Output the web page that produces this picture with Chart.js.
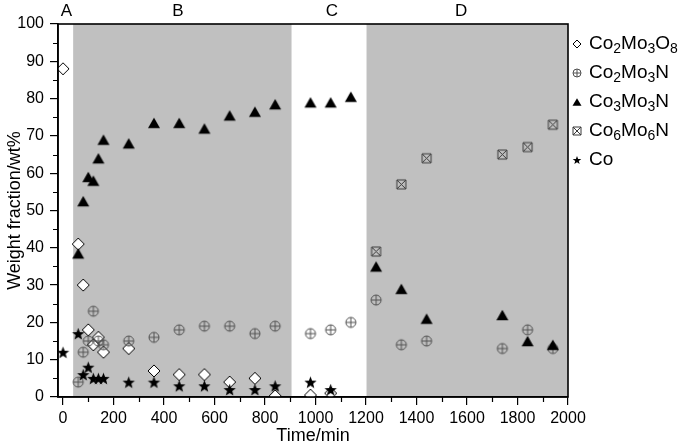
<!DOCTYPE html>
<html><head><meta charset="utf-8">
<script src="https://cdn.jsdelivr.net/npm/chart.js@4.4.0/dist/chart.umd.min.js"></script>
<style>html,body{margin:0;padding:0;background:#fff;}</style>
</head><body>
<canvas id="c" width="685" height="447"></canvas>
<script>
// ---------- data ----------
const seriesNames = ['Co2Mo3O8', 'Co2Mo3N', 'Co3Mo3N', 'Co6Mo6N', 'Co'];

const timeCo2Mo3O8 = [0, 60, 80, 100, 120, 140, 160, 260, 360, 460, 560, 660, 760, 840, 980, 1060];
const wtCo2Mo3O8   = [88, 41, 30, 18, 14, 16, 12, 13, 7, 6, 6, 4, 5, 0.3, 0.5, 1];

const timeNitrides = [60, 80, 100, 120, 140, 160, 260, 360, 460, 560, 660, 760, 840, 980, 1060, 1140, 1240, 1340, 1440, 1740, 1840, 1940];
const wtCo2Mo3N    = [4, 12, 15, 23, 15, 14, 15, 16, 18, 19, 19, 17, 19, 17, 18, 20, 26, 14, 15, 13, 18, 13];
const wtCo3Mo3N    = [38.5, 52.5, 59, 58, 64, 69, 68, 73.5, 73.5, 72, 75.5, 76.5, 78.5, 79, 79, 80.5, 35, 29, 21, 22, 15, 14];

const timeCo6Mo6N  = [1240, 1340, 1440, 1740, 1840, 1940];
const wtCo6Mo6N    = [39, 57, 64, 65, 67, 73];

const timeCo = [0, 60, 80, 100, 120, 140, 160, 260, 360, 460, 560, 660, 760, 840, 980, 1060];
const wtCo   = [12, 17, 6, 8, 5, 5, 5, 4, 4, 3, 3, 2, 2, 3, 4, 2];

const xTickValues = [0, 200, 400, 600, 800, 1000, 1200, 1400, 1600, 1800, 2000];
const yTickValues = [0, 10, 20, 30, 40, 50, 60, 70, 80, 90, 100];

const regionLabels = ['A', 'B', 'C', 'D'];
const regionLabelAt = [13, 455, 1065, 1577];
const shadeFrom = [40, 1202];
const shadeTo   = [905, 2000];

// ---------- markers ----------
const FONT = '"Liberation Sans", Arial, sans-serif';
function drawMarker(g, kind, cx, cy, s) {
  const h = s / 2;
  g.save();
  g.lineWidth = 1;
  g.beginPath();
  if (kind === 'diamond') {
    g.moveTo(cx, cy - h); g.lineTo(cx + h, cy); g.lineTo(cx, cy + h); g.lineTo(cx - h, cy); g.closePath();
    g.fillStyle = '#fff'; g.fill(); g.strokeStyle = '#000'; g.stroke();
  } else if (kind === 'circplus') {
    g.arc(cx, cy, h, 0, Math.PI * 2);
    g.moveTo(cx - h, cy); g.lineTo(cx + h, cy);
    g.moveTo(cx, cy - h); g.lineTo(cx, cy + h);
    g.strokeStyle = '#505050'; g.stroke();
  } else if (kind === 'triangle') {
    const th = s * 0.86;
    g.moveTo(cx, cy - th / 2); g.lineTo(cx + h, cy + th / 2); g.lineTo(cx - h, cy + th / 2); g.closePath();
    g.fillStyle = '#000'; g.fill();
  } else if (kind === 'squarex') {
    g.rect(cx - h, cy - h, s, s);
    g.moveTo(cx - h, cy - h); g.lineTo(cx + h, cy + h);
    g.moveTo(cx + h, cy - h); g.lineTo(cx - h, cy + h);
    g.strokeStyle = '#3a3a3a'; g.stroke();
  } else if (kind === 'star') {
    const ro = h, ri = h * 0.42, oy = cy + h * 0.1;
    for (let i = 0; i < 10; i++) {
      const r = i % 2 ? ri : ro;
      const a = -Math.PI / 2 + i * Math.PI / 5;
      const px = cx + r * Math.cos(a), py = oy + r * Math.sin(a);
      if (i === 0) g.moveTo(px, py); else g.lineTo(px, py);
    }
    g.closePath(); g.fillStyle = '#000'; g.fill();
  }
  g.restore();
}
function markerCanvas(kind, s) {
  const n = Math.ceil(s + 4);
  const c = document.createElement('canvas');
  c.width = n; c.height = n;
  drawMarker(c.getContext('2d'), kind, n / 2, n / 2, s);
  return c;
}
const kinds = ['diamond', 'circplus', 'triangle', 'squarex', 'star'];
const plotSizes = [12, 10, 12, 9, 13];
const legendSizes = [8, 8, 9, 8, 9];

function pts(xs, ys) { return xs.map((x, i) => ({x: x, y: ys[i]})); }
const seriesData = [
  pts(timeCo2Mo3O8, wtCo2Mo3O8),
  pts(timeNitrides, wtCo2Mo3N),
  pts(timeNitrides, wtCo3Mo3N),
  pts(timeCo6Mo6N, wtCo6Mo6N),
  pts(timeCo, wtCo)
];
const datasets = seriesNames.map((name, i) => ({
  label: name,
  data: seriesData[i],
  pointStyle: markerCanvas(kinds[i], plotSizes[i]),
  pointRadius: 6,
  showLine: false,
  order: 4 - i
}));

// ---------- plugins ----------
const shadePlugin = {
  id: 'shade',
  beforeDraw(chart) {
    const {ctx, chartArea: a, scales: {x}} = chart;
    ctx.save();
    ctx.fillStyle = '#fff';
    ctx.fillRect(0, 0, chart.width, chart.height);
    ctx.fillStyle = '#c0c0c0';
    for (let i = 0; i < shadeFrom.length; i++) {
      const x0 = x.getPixelForValue(shadeFrom[i]);
      const x1 = x.getPixelForValue(shadeTo[i]);
      ctx.fillRect(x0, a.top, x1 - x0, a.bottom - a.top);
    }
    ctx.restore();
  }
};

function drawChem(ctx, text, x, y, big, small) {
  let cx = x;
  for (const ch of text) {
    const isDigit = ch >= '0' && ch <= '9';
    ctx.font = (isDigit ? small : big) + 'px ' + FONT;
    ctx.fillText(ch, cx, isDigit ? y + 5 : y);
    cx += ctx.measureText(ch).width;
  }
}

const decorPlugin = {
  id: 'decor',
  afterDraw(chart) {
    const {ctx, chartArea: a, scales: {x, y}} = chart;
    ctx.save();
    // frame
    ctx.strokeStyle = '#000';
    ctx.lineWidth = 1.6;
    ctx.strokeRect(a.left, a.top, a.right - a.left, a.bottom - a.top);
    // minor ticks
    ctx.lineWidth = 1.2;
    ctx.beginPath();
    for (let v = 100; v < 2000; v += 200) {
      const px = Math.round(x.getPixelForValue(v)) + 0.5;
      ctx.moveTo(px, a.bottom); ctx.lineTo(px, a.bottom + 5);
    }
    for (let v = 5; v < 100; v += 10) {
      const py = Math.round(y.getPixelForValue(v)) + 0.5;
      ctx.moveTo(a.left, py); ctx.lineTo(a.left - 5, py);
    }
    ctx.stroke();
    // region labels
    ctx.fillStyle = '#000';
    ctx.font = '17px ' + FONT;
    ctx.textAlign = 'center';
    ctx.textBaseline = 'middle';
    regionLabels.forEach((t, i) => ctx.fillText(t, x.getPixelForValue(regionLabelAt[i]), 11));
    // legend
    ctx.textAlign = 'left';
    ctx.textBaseline = 'middle';
    seriesNames.forEach((name, i) => {
      const ly = 44 + 29 * i;
      drawMarker(ctx, kinds[i], 577, ly, legendSizes[i]);
      ctx.fillStyle = '#000';
      drawChem(ctx, name, 589, ly, 19, 14);
    });
    ctx.restore();
  }
};

new Chart(document.getElementById('c'), {
  type: 'scatter',
  data: {datasets: datasets},
  options: {
    responsive: false,
    animation: false,
    devicePixelRatio: 1,
    layout: {padding: {top: 24, right: 117, left: 0, bottom: 0}},
    plugins: {legend: {display: false}, tooltip: {enabled: false}},
    scales: {
      x: {
        type: 'linear', min: -20, max: 2000,
        afterBuildTicks: s => { s.ticks = xTickValues.map(v => ({value: v})); },
        afterFit: s => { s.height = 50; },
        ticks: {font: {family: FONT, size: 16}, color: '#000', padding: 4, maxRotation: 0, autoSkip: false,
                callback: v => String(v)},
        grid: {drawOnChartArea: false, drawTicks: true, tickLength: 8, color: '#000', lineWidth: 1.2},
        border: {display: true, color: '#000', width: 1.6},
        title: {display: true, text: 'Time/min', font: {family: FONT, size: 18}, color: '#000', padding: {top: 0, bottom: 0}}
      },
      y: {
        type: 'linear', min: 0, max: 100,
        afterBuildTicks: s => { s.ticks = yTickValues.map(v => ({value: v})); },
        afterFit: s => { s.width = 58; },
        ticks: {font: {family: FONT, size: 16}, color: '#000', padding: 6, callback: v => String(v)},
        grid: {drawOnChartArea: false, drawTicks: true, tickLength: 8, color: '#000', lineWidth: 1.2},
        border: {display: true, color: '#000', width: 1.6},
        title: {display: true, text: 'Weight fraction/wt%', font: {family: FONT, size: 18}, color: '#000', padding: {top: 4, bottom: 0}}
      }
    }
  },
  plugins: [shadePlugin, decorPlugin]
});
</script>
</body></html>
